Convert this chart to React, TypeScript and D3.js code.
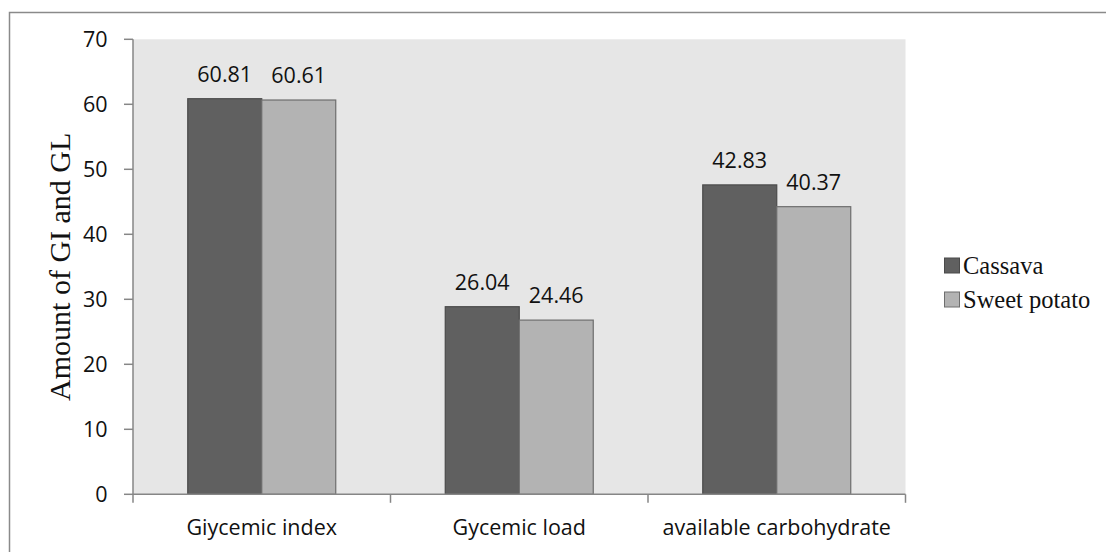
import React, { useRef, useEffect } from 'react';
import * as d3 from 'd3';

// Chart data
const categories = ['Giycemic index', 'Gycemic load', 'available carbohydrate'];
const seriesNames = ['Cassava', 'Sweet potato'];
// bar heights as drawn in the figure
const cassavaValues = [60.86, 28.86, 47.6];
const sweetPotatoValues = [60.66, 26.8, 44.25];
// printed data labels
const cassavaLabels = ['60.81', '26.04', '42.83'];
const sweetPotatoLabels = ['60.61', '24.46', '40.37'];
const yTicks = [0, 10, 20, 30, 40, 50, 60, 70];

const seriesColors = ['#606060', '#b3b3b3'];
const seriesStrokes = ['#4a4a4a', '#6e6e6e'];

const WIDTH = 1106;
const HEIGHT = 552;
const SANS = '"Open Sans", sans-serif';
const SERIF = '"Liberation Serif", "Times New Roman", serif';

const App: React.FC = () => {
  const svgRef = useRef<SVGSVGElement>(null);

  useEffect(() => {
    if (!svgRef.current) return;
    const svg = d3.select(svgRef.current);
    svg.selectAll('*').remove();

    const plot = { left: 133, right: 905.5, top: 39.3, bottom: 494.3 };

    const y = d3.scaleLinear().domain([0, 70]).range([plot.bottom, plot.top]);
    const x0 = d3.scaleBand<string>().domain(categories).range([plot.left, plot.right]).padding(0);
    const x1 = d3.scaleBand<string>()
      .domain(seriesNames)
      .range([0, x0.bandwidth()])
      .paddingInner(0)
      .paddingOuter(0.74);

    // white background + outer frame (top and left edges visible)
    svg.append('rect').attr('width', WIDTH).attr('height', HEIGHT).attr('fill', '#fff');
    svg.append('path')
      .attr('d', `M9.5,${HEIGHT + 2} V12.5 H${WIDTH + 2}`)
      .attr('fill', 'none')
      .attr('stroke', '#8a8a8a')
      .attr('stroke-width', 1.5);

    // plot area
    svg.append('rect')
      .attr('x', plot.left)
      .attr('y', plot.top)
      .attr('width', plot.right - plot.left)
      .attr('height', plot.bottom - plot.top)
      .attr('fill', '#e6e6e6');

    // bars
    const values = [cassavaValues, sweetPotatoValues];
    const labels = [cassavaLabels, sweetPotatoLabels];
    const barsGroup = svg.append('g');
    categories.forEach((cat, ci) => {
      seriesNames.forEach((s, si) => {
        const v = values[si][ci];
        const bx = (x0(cat) as number) + (x1(s) as number);
        barsGroup.append('rect')
          .attr('x', bx)
          .attr('y', y(v))
          .attr('width', x1.bandwidth())
          .attr('height', y(0) - y(v))
          .attr('fill', seriesColors[si])
          .attr('stroke', seriesStrokes[si])
          .attr('stroke-width', 1.2);
        barsGroup.append('text')
          .attr('x', bx + x1.bandwidth() / 2)
          .attr('y', y(v) - 17)
          .attr('text-anchor', 'middle')
          .attr('font-family', SANS)
          .attr('font-size', 21.5)
          .attr('fill', '#111')
          .text(labels[si][ci]);
      });
    });

    // y axis
    const yAxis = svg.append('g');
    yAxis.append('line')
      .attr('x1', plot.left).attr('x2', plot.left)
      .attr('y1', plot.top).attr('y2', plot.bottom)
      .attr('stroke', '#868686').attr('stroke-width', 1.5);
    yTicks.forEach(t => {
      yAxis.append('line')
        .attr('x1', plot.left - 9).attr('x2', plot.left)
        .attr('y1', y(t)).attr('y2', y(t))
        .attr('stroke', '#868686').attr('stroke-width', 1.5);
      yAxis.append('text')
        .attr('x', 107.5)
        .attr('y', y(t))
        .attr('dy', '0.36em')
        .attr('text-anchor', 'end')
        .attr('font-family', SANS)
        .attr('font-size', 21.5)
        .attr('fill', '#111')
        .text(t);
    });

    // x axis
    const xAxis = svg.append('g');
    xAxis.append('line')
      .attr('x1', plot.left).attr('x2', plot.right)
      .attr('y1', plot.bottom).attr('y2', plot.bottom)
      .attr('stroke', '#868686').attr('stroke-width', 1.5);
    const tickXs = categories.map(c => x0(c) as number).concat([plot.right]);
    tickXs.forEach(tx => {
      xAxis.append('line')
        .attr('x1', tx).attr('x2', tx)
        .attr('y1', plot.bottom).attr('y2', plot.bottom + 8.5)
        .attr('stroke', '#868686').attr('stroke-width', 1.5);
    });
    categories.forEach(cat => {
      xAxis.append('text')
        .attr('x', (x0(cat) as number) + x0.bandwidth() / 2)
        .attr('y', 534.5)
        .attr('text-anchor', 'middle')
        .attr('font-family', SANS)
        .attr('font-size', 21.5)
        .attr('fill', '#111')
        .text(cat);
    });

    // y axis title
    svg.append('text')
      .attr('transform', `translate(70, ${(plot.top + plot.bottom) / 2}) rotate(-90)`)
      .attr('text-anchor', 'middle')
      .attr('font-family', SERIF)
      .attr('font-size', 30)
      .attr('fill', '#111')
      .text('Amount of GI and GL');

    // legend
    const legend = svg.append('g');
    seriesNames.forEach((s, i) => {
      const cy = 265.5 + i * 34;
      legend.append('rect')
        .attr('x', 944.5)
        .attr('y', cy - 7.5)
        .attr('width', 15)
        .attr('height', 15)
        .attr('fill', seriesColors[i])
        .attr('stroke', seriesStrokes[i])
        .attr('stroke-width', 1);
      legend.append('text')
        .attr('x', 963)
        .attr('y', cy + 8)
        .attr('font-family', SERIF)
        .attr('font-size', 24.5)
        .attr('fill', '#111')
        .text(s);
    });
  }, []);

  return (
    <svg
      ref={svgRef}
      width={WIDTH}
      height={HEIGHT}
      style={{ position: 'absolute', left: 0, top: 0, display: 'block' }}
    />
  );
};

export default App;
